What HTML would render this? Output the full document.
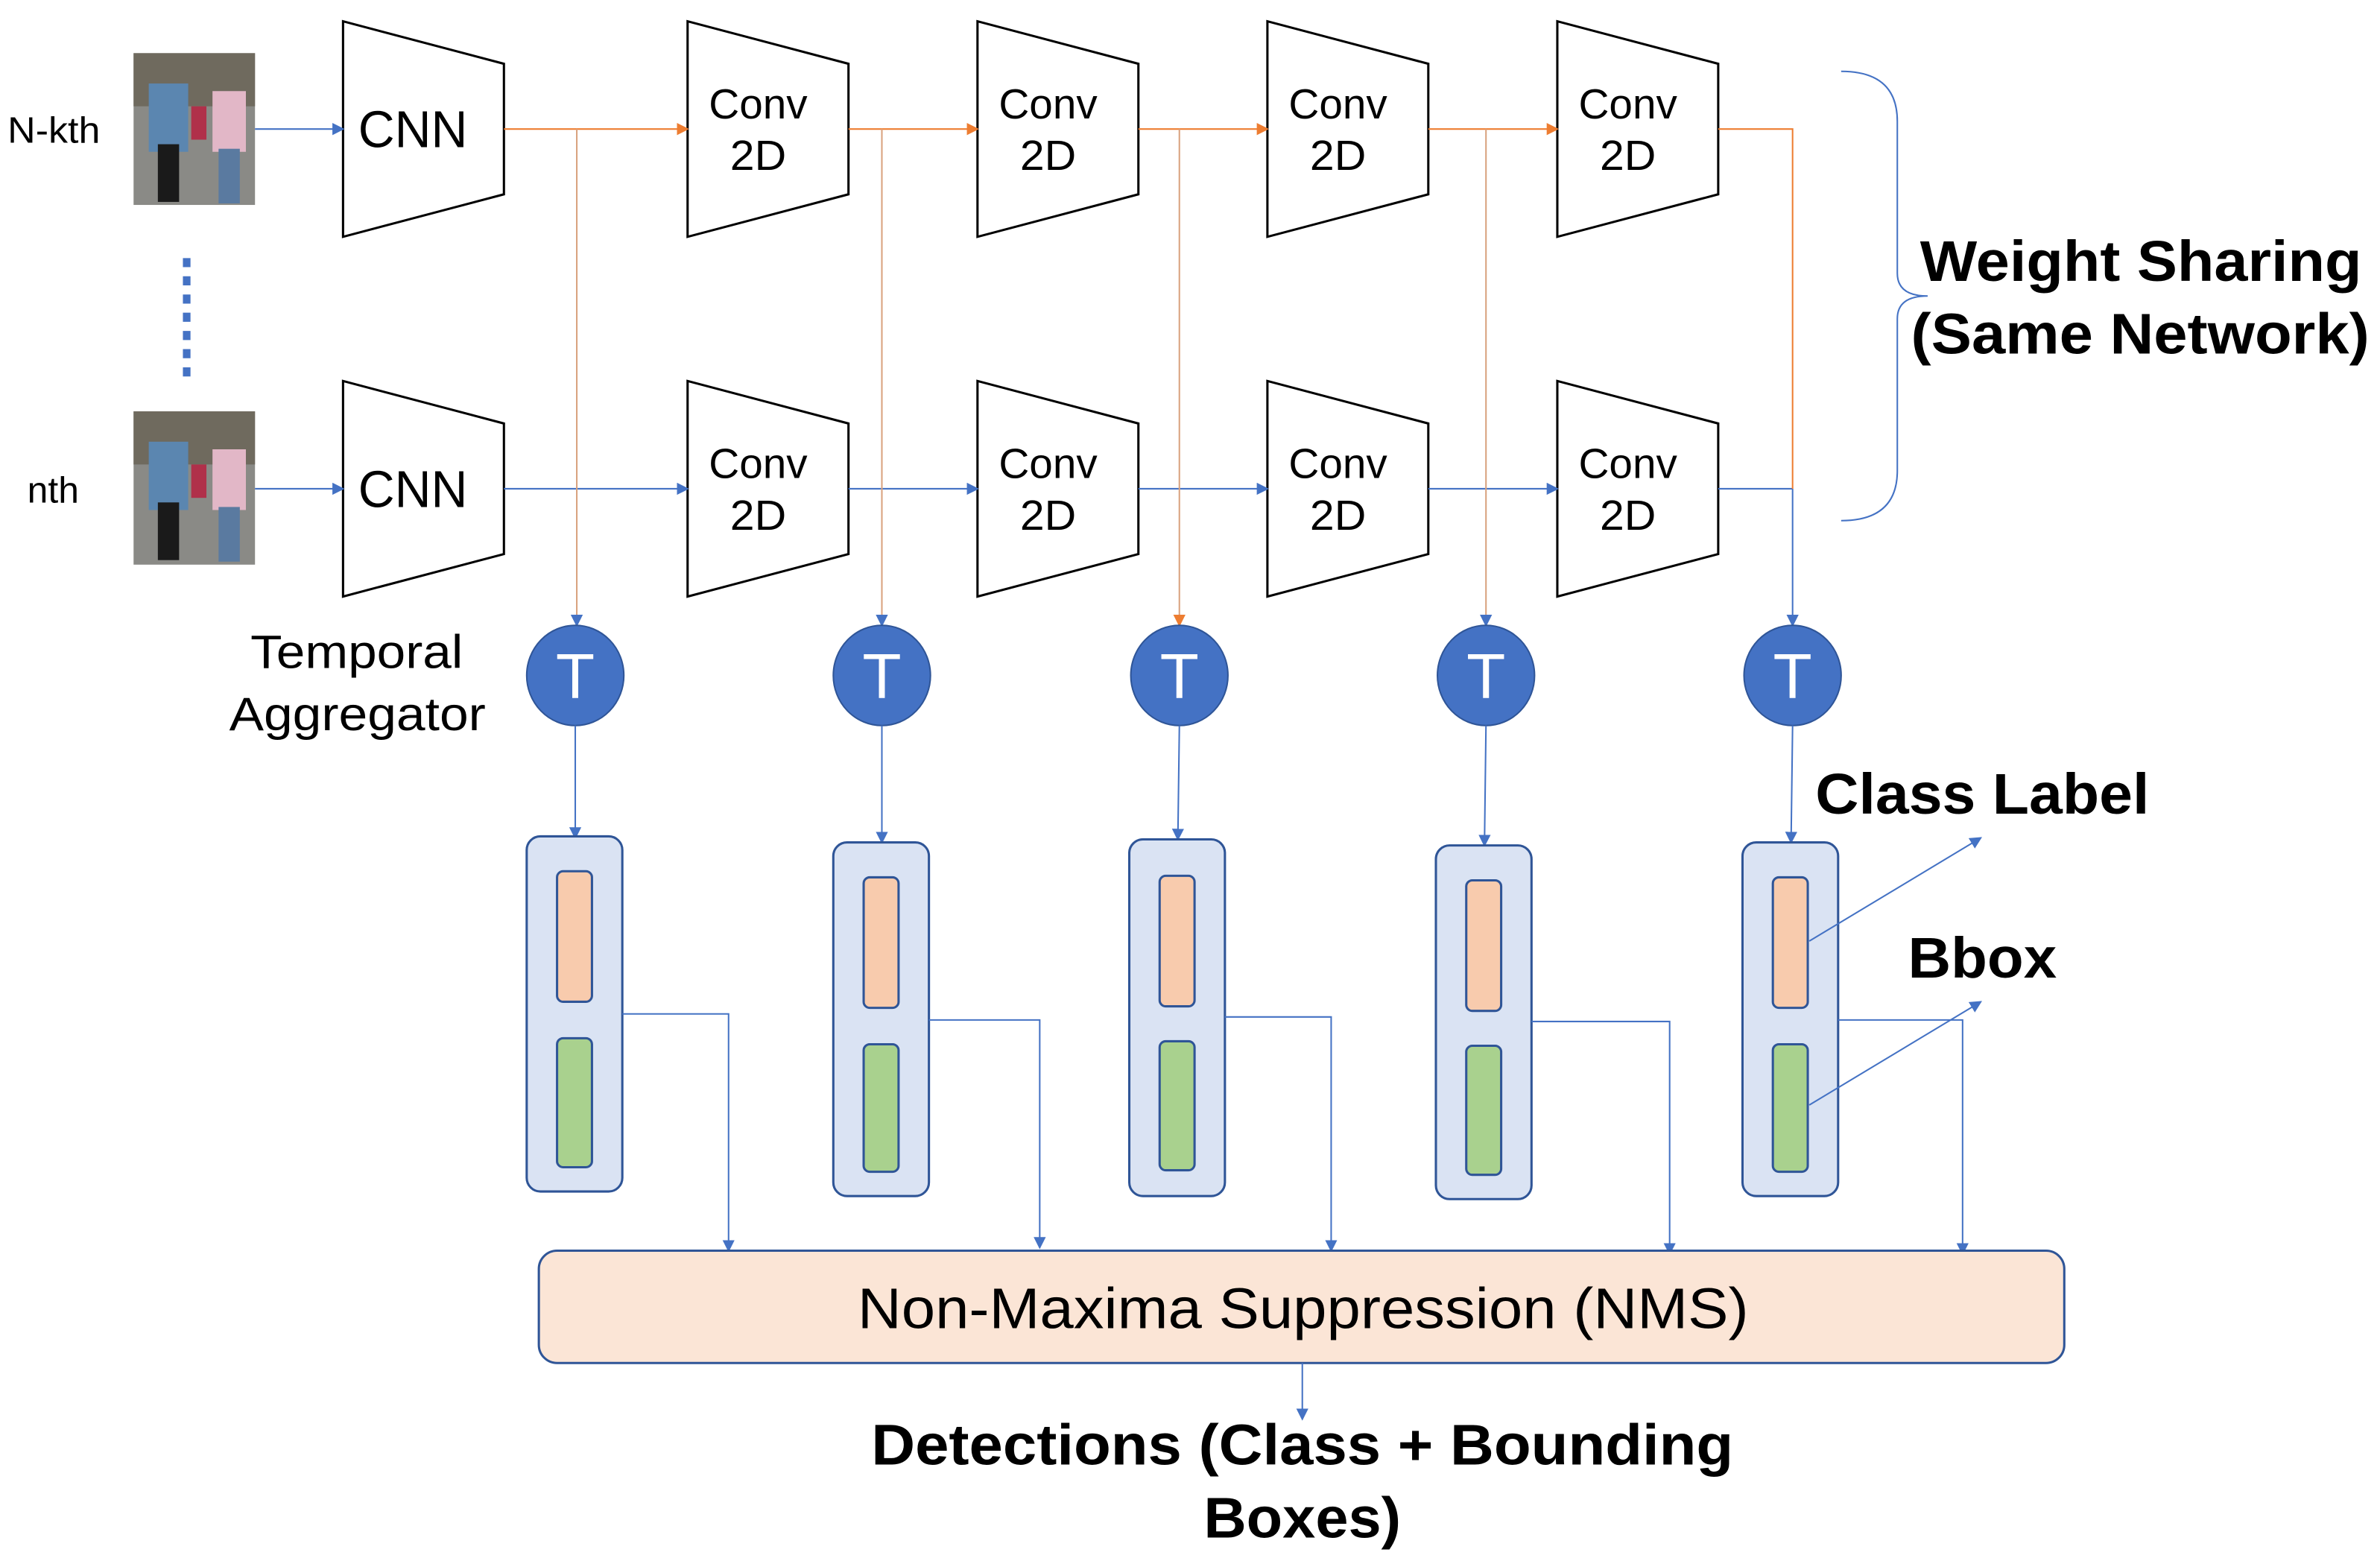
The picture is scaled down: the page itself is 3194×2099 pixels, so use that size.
<!DOCTYPE html>
<html><head><meta charset="utf-8"><style>html,body{margin:0;padding:0;background:#fff}svg{display:block}text{font-family:"Liberation Sans Narrow","Liberation Sans",Arial,sans-serif}</style></head>
<body>
<svg width="3194" height="2099" viewBox="0 0 1568 1030.4" xmlns="http://www.w3.org/2000/svg">
<defs>
<marker id="ab" markerWidth="8" markerHeight="8" refX="7" refY="4" orient="auto" markerUnits="userSpaceOnUse"><path d="M0,0 L8,4 L0,8 z" fill="#4472C4"/></marker>
<marker id="ao" markerWidth="8" markerHeight="8" refX="7" refY="4" orient="auto" markerUnits="userSpaceOnUse"><path d="M0,0 L8,4 L0,8 z" fill="#ED7D31"/></marker>
</defs>
<rect width="1568" height="1031" fill="#fff"/>
<text x="5" y="94" font-size="24" textLength="61" lengthAdjust="spacingAndGlyphs">N-kth</text>
<text x="18" y="331" font-size="24" textLength="34" lengthAdjust="spacingAndGlyphs">nth</text>
<g>
<rect x="88" y="35" width="80" height="100" fill="#8a8a86"/>
<rect x="88" y="35" width="80" height="35" fill="#6f6a5e"/>
<rect x="98" y="55" width="26" height="45" fill="#5b86b0"/><rect x="104" y="95" width="14" height="38" fill="#1a1a1a"/>
<rect x="140" y="60" width="22" height="40" fill="#e2b7c7"/><rect x="144" y="98" width="14" height="36" fill="#5a7aa0"/>
<rect x="126" y="70" width="10" height="22" fill="#b0304a"/>
</g>
<g>
<rect x="88" y="271" width="80" height="101" fill="#8a8a86"/>
<rect x="88" y="271" width="80" height="35" fill="#6f6a5e"/>
<rect x="98" y="291" width="26" height="45" fill="#5b86b0"/><rect x="104" y="331" width="14" height="38" fill="#1a1a1a"/>
<rect x="140" y="296" width="22" height="40" fill="#e2b7c7"/><rect x="144" y="334" width="14" height="36" fill="#5a7aa0"/>
<rect x="126" y="306" width="10" height="22" fill="#b0304a"/>
</g>
<line x1="123" y1="170" x2="123" y2="250" stroke="#4472C4" stroke-width="5" stroke-dasharray="6,6"/>
<g fill="#fff" stroke="#000" stroke-width="1.5">
<path d="M226,14 L332,42 L332,128 L226,156 Z"/>
<path d="M453,14 L559,42 L559,128 L453,156 Z"/>
<path d="M644,14 L750,42 L750,128 L644,156 Z"/>
<path d="M835,14 L941,42 L941,128 L835,156 Z"/>
<path d="M1026,14 L1132,42 L1132,128 L1026,156 Z"/>
<path d="M226,251 L332,279 L332,365 L226,393 Z"/>
<path d="M453,251 L559,279 L559,365 L453,393 Z"/>
<path d="M644,251 L750,279 L750,365 L644,393 Z"/>
<path d="M835,251 L941,279 L941,365 L835,393 Z"/>
<path d="M1026,251 L1132,279 L1132,365 L1026,393 Z"/>
</g>
<g font-size="34">
<text x="236" y="97" textLength="72" lengthAdjust="spacingAndGlyphs">CNN</text>
<text x="236" y="334" textLength="72" lengthAdjust="spacingAndGlyphs">CNN</text>
</g>
<g font-size="28">
<text x="467" y="78" textLength="65" lengthAdjust="spacingAndGlyphs">Conv</text><text x="481" y="112" textLength="37" lengthAdjust="spacingAndGlyphs">2D</text>
<text x="658" y="78" textLength="65" lengthAdjust="spacingAndGlyphs">Conv</text><text x="672" y="112" textLength="37" lengthAdjust="spacingAndGlyphs">2D</text>
<text x="849" y="78" textLength="65" lengthAdjust="spacingAndGlyphs">Conv</text><text x="863" y="112" textLength="37" lengthAdjust="spacingAndGlyphs">2D</text>
<text x="1040" y="78" textLength="65" lengthAdjust="spacingAndGlyphs">Conv</text><text x="1054" y="112" textLength="37" lengthAdjust="spacingAndGlyphs">2D</text>
<text x="467" y="315" textLength="65" lengthAdjust="spacingAndGlyphs">Conv</text><text x="481" y="349" textLength="37" lengthAdjust="spacingAndGlyphs">2D</text>
<text x="658" y="315" textLength="65" lengthAdjust="spacingAndGlyphs">Conv</text><text x="672" y="349" textLength="37" lengthAdjust="spacingAndGlyphs">2D</text>
<text x="849" y="315" textLength="65" lengthAdjust="spacingAndGlyphs">Conv</text><text x="863" y="349" textLength="37" lengthAdjust="spacingAndGlyphs">2D</text>
<text x="1040" y="315" textLength="65" lengthAdjust="spacingAndGlyphs">Conv</text><text x="1054" y="349" textLength="37" lengthAdjust="spacingAndGlyphs">2D</text>
</g>
<g stroke="#4472C4" stroke-width="1" fill="none">
<line x1="168" y1="85" x2="226" y2="85" marker-end="url(#ab)"/>
<line x1="168" y1="322" x2="226" y2="322" marker-end="url(#ab)"/>
<line x1="332" y1="322" x2="453" y2="322" marker-end="url(#ab)"/>
<line x1="559" y1="322" x2="644" y2="322" marker-end="url(#ab)"/>
<line x1="750" y1="322" x2="835" y2="322" marker-end="url(#ab)"/>
<line x1="941" y1="322" x2="1026" y2="322" marker-end="url(#ab)"/>
<line x1="1132" y1="322" x2="1181" y2="322"/>
</g>
<g stroke="#ED7D31" stroke-width="1" fill="none">
<line x1="332" y1="85" x2="453" y2="85" marker-end="url(#ao)"/>
<line x1="559" y1="85" x2="644" y2="85" marker-end="url(#ao)"/>
<line x1="750" y1="85" x2="835" y2="85" marker-end="url(#ao)"/>
<line x1="941" y1="85" x2="1026" y2="85" marker-end="url(#ao)"/>
<polyline points="1132,85 1181,85 1181,322"/>
</g>
<g stroke="#D9A27E" stroke-width="1" fill="none">
<line x1="380" y1="85" x2="380" y2="412" marker-end="url(#ab)"/>
<line x1="581" y1="85" x2="581" y2="412" marker-end="url(#ab)"/>
<line x1="777" y1="85" x2="777" y2="412" marker-end="url(#ao)"/>
<line x1="979" y1="85" x2="979" y2="412" marker-end="url(#ab)"/>
</g>
<line x1="1181" y1="322" x2="1181" y2="412" stroke="#4472C4" stroke-width="1" marker-end="url(#ab)"/>
<g fill="#4472C4" stroke="#2F5597" stroke-width="1">
<ellipse cx="379" cy="445" rx="32" ry="33"/>
<ellipse cx="581" cy="445" rx="32" ry="33"/>
<ellipse cx="777" cy="445" rx="32" ry="33"/>
<ellipse cx="979" cy="445" rx="32" ry="33"/>
<ellipse cx="1181" cy="445" rx="32" ry="33"/>
</g>
<g fill="#fff" font-size="42" text-anchor="middle">
<text x="379" y="460">T</text><text x="581" y="460">T</text><text x="777" y="460">T</text><text x="979" y="460">T</text><text x="1181" y="460">T</text>
</g>
<text x="165" y="440" font-size="31" textLength="140" lengthAdjust="spacingAndGlyphs">Temporal</text>
<text x="151" y="481" font-size="31" textLength="169" lengthAdjust="spacingAndGlyphs">Aggregator</text>
<g stroke="#4472C4" stroke-width="1" fill="none">
<line x1="379" y1="478" x2="379" y2="552" marker-end="url(#ab)"/>
<line x1="581" y1="478" x2="581" y2="555" marker-end="url(#ab)"/>
<line x1="777" y1="478" x2="776" y2="553" marker-end="url(#ab)"/>
<line x1="979" y1="478" x2="978" y2="557" marker-end="url(#ab)"/>
<line x1="1181" y1="478" x2="1180" y2="555" marker-end="url(#ab)"/>
</g>
<g stroke="#2F5597" stroke-width="1.5">
<rect x="347" y="551" width="63" height="234" rx="9" fill="#DAE3F3"/>
<rect x="367" y="574" width="23" height="86" rx="4" fill="#F8CBAD"/>
<rect x="367" y="684" width="23" height="85" rx="4" fill="#A9D18E"/>
<rect x="549" y="555" width="63" height="233" rx="9" fill="#DAE3F3"/>
<rect x="569" y="578" width="23" height="86" rx="4" fill="#F8CBAD"/>
<rect x="569" y="688" width="23" height="84" rx="4" fill="#A9D18E"/>
<rect x="744" y="553" width="63" height="235" rx="9" fill="#DAE3F3"/>
<rect x="764" y="577" width="23" height="86" rx="4" fill="#F8CBAD"/>
<rect x="764" y="686" width="23" height="85" rx="4" fill="#A9D18E"/>
<rect x="946" y="557" width="63" height="233" rx="9" fill="#DAE3F3"/>
<rect x="966" y="580" width="23" height="86" rx="4" fill="#F8CBAD"/>
<rect x="966" y="689" width="23" height="85" rx="4" fill="#A9D18E"/>
<rect x="1148" y="555" width="63" height="233" rx="9" fill="#DAE3F3"/>
<rect x="1168" y="578" width="23" height="86" rx="4" fill="#F8CBAD"/>
<rect x="1168" y="688" width="23" height="84" rx="4" fill="#A9D18E"/>
</g>
<g stroke="#4472C4" stroke-width="1" fill="none">
<polyline points="410,668 480,668 480,824" marker-end="url(#ab)"/>
<polyline points="612,672 685,672 685,822" marker-end="url(#ab)"/>
<polyline points="807,670 877,670 877,824" marker-end="url(#ab)"/>
<polyline points="1009,673 1100,673 1100,826" marker-end="url(#ab)"/>
<polyline points="1211,672 1293,672 1293,826" marker-end="url(#ab)"/>
<line x1="1192" y1="620" x2="1305" y2="552" marker-end="url(#ab)"/>
<line x1="1192" y1="728" x2="1305" y2="660" marker-end="url(#ab)"/>
<path d="M1213,47 Q1250,47 1250,80 L1250,180 Q1250,195 1270,195 Q1250,195 1250,210 L1250,310 Q1250,343 1213,343"/>
</g>
<rect x="355" y="824" width="1005" height="74" rx="12" fill="#FBE5D6" stroke="#2F5597" stroke-width="1.5"/>
<text x="565" y="875" font-size="38" textLength="587" lengthAdjust="spacingAndGlyphs">Non-Maxima Suppression (NMS)</text>
<line x1="858" y1="898" x2="858" y2="935" stroke="#4472C4" stroke-width="1" marker-end="url(#ab)"/>
<g font-weight="bold" font-size="38">
<text x="574" y="965" textLength="568" lengthAdjust="spacingAndGlyphs">Detections (Class + Bounding</text>
<text x="793" y="1013" textLength="130" lengthAdjust="spacingAndGlyphs">Boxes)</text>
<text x="1265" y="185" textLength="291" lengthAdjust="spacingAndGlyphs">Weight Sharing</text>
<text x="1259" y="233" textLength="302" lengthAdjust="spacingAndGlyphs">(Same Network)</text>
<text x="1196" y="536" textLength="220" lengthAdjust="spacingAndGlyphs">Class Label</text>
<text x="1257" y="644" textLength="98" lengthAdjust="spacingAndGlyphs">Bbox</text>
</g>
</svg>
</body></html>
